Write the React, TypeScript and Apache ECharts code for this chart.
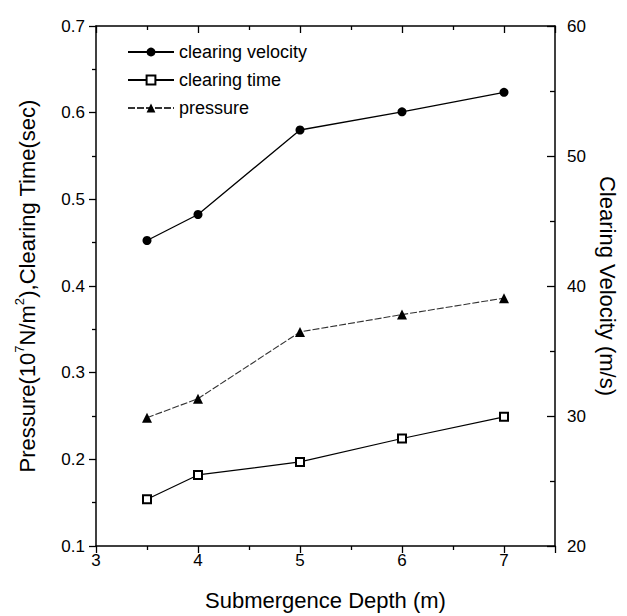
import React, { useEffect, useRef } from "react";
import * as echarts from "echarts";

const depths = [3.5, 4, 5, 6, 7];
const clearingVelocity = [43.5, 45.5, 52.0, 53.4, 54.9];
const clearingTime = [0.154, 0.182, 0.197, 0.224, 0.249];
const pressure = [0.248, 0.27, 0.347, 0.367, 0.386];
const seriesNames = ["clearing velocity", "clearing time", "pressure"];

const FONT = "Liberation Sans";
const BLACK = "#000";

export default function App() {
  const ref = useRef<HTMLDivElement>(null);
  useEffect(() => {
    if (!ref.current) return;
    const chart = echarts.init(ref.current, null, { renderer: "svg" });
    const axisLine = { show: true, onZero: false, lineStyle: { color: BLACK, width: 1.5 } };
    const tickStyle = { color: BLACK, width: 1.3 };
    const labelStyle = { color: BLACK, fontSize: 17, fontFamily: FONT };
    const titleStyle = { color: BLACK, fontSize: 22, fontFamily: FONT };
    const xBase = {
      type: "value",
      min: 3,
      max: 7.5,
      interval: 1,
      axisLine,
      splitLine: { show: false },
      minorTick: { show: true, splitNumber: 2, length: 4, lineStyle: tickStyle },
      minorSplitLine: { show: false },
    };
    chart.setOption({
      animation: false,
      backgroundColor: "#fff",
      grid: { left: 96, right: 72, top: 26, bottom: 70, containLabel: false },
      legend: {
        data: seriesNames,
        orient: "vertical",
        left: 127,
        top: 42,
        padding: 0,
        itemWidth: 46,
        itemHeight: 11,
        itemGap: 8,
        textStyle: { color: BLACK, fontSize: 18, fontFamily: FONT, lineHeight: 20 },
      },
      xAxis: [
        {
          ...xBase,
          position: "bottom",
          axisTick: { show: true, inside: false, length: 7, lineStyle: tickStyle },
          axisLabel: {
            ...labelStyle,
            margin: 6,
            formatter: (v: number) => (Number.isInteger(v) ? String(v) : ""),
          },
          name: "Submergence Depth (m)",
          nameLocation: "middle",
          nameGap: 43,
          nameTextStyle: titleStyle,
        },
        {
          ...xBase,
          position: "top",
          axisTick: { show: true, inside: true, length: 7, lineStyle: tickStyle },
          axisLabel: { show: false },
        },
      ],
      yAxis: [
        {
          type: "value",
          position: "left",
          min: 0.1,
          max: 0.7,
          interval: 0.1,
          axisLine,
          splitLine: { show: false },
          axisTick: { show: true, inside: false, length: 7, lineStyle: tickStyle },
          minorTick: { show: true, splitNumber: 2, length: 4, lineStyle: tickStyle },
          axisLabel: { ...labelStyle, margin: 11, formatter: (v: number) => v.toFixed(1) },
          name: "{n|Pressure(10}{s|7}{n|N/m}{s|2}{n|),Clearing Time(sec)}",
          nameLocation: "middle",
          nameGap: 55,
          nameRotate: 90,
          nameTextStyle: {
            rich: {
              n: { ...titleStyle, lineHeight: 28 },
              s: { color: BLACK, fontSize: 13, fontFamily: FONT, lineHeight: 13, verticalAlign: "top" },
            },
          },
        },
        {
          type: "value",
          position: "right",
          min: 20,
          max: 60,
          interval: 10,
          axisLine,
          splitLine: { show: false },
          axisTick: { show: true, inside: true, length: 8, lineStyle: tickStyle },
          minorTick: { show: true, splitNumber: 2, length: 5, lineStyle: tickStyle },
          axisLabel: { ...labelStyle, margin: 12 },
          name: "Clearing Velocity (m/s)",
          nameLocation: "middle",
          nameGap: 25,
          nameRotate: -90,
          nameTextStyle: titleStyle,
        },
      ],
      series: [
        {
          name: seriesNames[0],
          type: "line",
          xAxisIndex: 0,
          yAxisIndex: 1,
          data: depths.map((d, i) => [d, clearingVelocity[i]]),
          symbol: "circle",
          symbolSize: 9,
          color: BLACK,
          lineStyle: { color: BLACK, width: 1.3 },
        },
        {
          name: seriesNames[1],
          type: "line",
          xAxisIndex: 0,
          yAxisIndex: 0,
          data: depths.map((d, i) => [d, clearingTime[i]]),
          symbol: "emptyRect",
          symbolSize: 8,
          color: BLACK,
          itemStyle: { color: BLACK, borderWidth: 1 },
          lineStyle: { color: BLACK, width: 1.2 },
        },
        {
          name: seriesNames[2],
          type: "line",
          xAxisIndex: 0,
          yAxisIndex: 0,
          data: depths.map((d, i) => [d, pressure[i]]),
          symbol: "triangle",
          symbolSize: 10,
          color: BLACK,
          lineStyle: { color: "#333", width: 1.1, type: [7, 2] },
        },
      ],
    });
    return () => chart.dispose();
  }, []);
  return (
    <div
      ref={ref}
      style={{ position: "fixed", left: 0, top: 0, width: 627, height: 616, background: "#fff" }}
    />
  );
}
